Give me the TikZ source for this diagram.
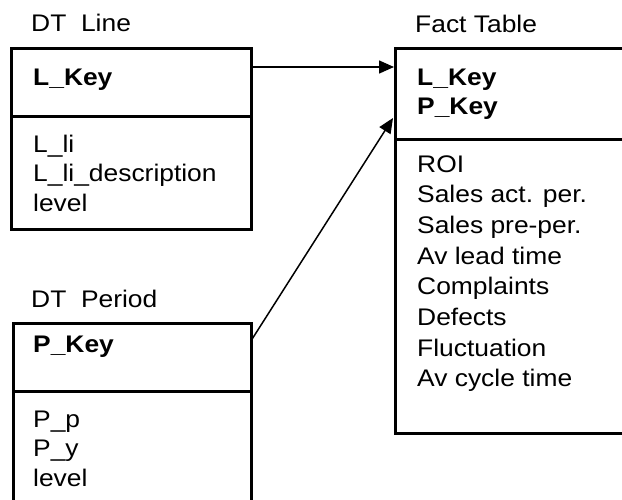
\documentclass[tikz,border=0pt]{standalone}
\usepackage{fontspec}
\setmainfont{Liberation Sans}[FakeStretch=1.1]
\usetikzlibrary{arrows.meta}

\tikzset{
  tablebox/.style={draw, line width=3pt, inner sep=0pt, anchor=north west},
  title/.style={anchor=base west, inner sep=0pt, font=\fontsize{24}{29}\selectfont},
  field/.style={anchor=base west, inner sep=0pt, font=\fontsize{24}{29}\selectfont},
  keyfield/.style={field, font=\fontsize{24}{29}\selectfont\bfseries},
  link/.style={line width=1.5pt, -{Triangle[length=15pt,width=13pt]}}
}

\begin{document}
\begin{tikzpicture}[x=1pt,y=-1pt]
  \useasboundingbox (0,0) rectangle (622,499);
  \fill[white] (0,0) rectangle (622,499);
  \clip (0,0) rectangle (622,499);

  % table titles
  \node[title] (tline) at (31,31) {DT\ \ Line};
  \node[title] (tperiod) at (31,307) {DT\ \ Period};
  \node[title] (tfact) at (415,32) {Fact Table};

  % DT Line: key part and attribute part
  \node[tablebox, minimum width=240pt, minimum height=68pt] (lhead) at (10,47) {};
  \node[tablebox, minimum width=240pt, minimum height=113pt] (lbody) at (10,115) {};

  % DT Period: open at the bottom
  \node[tablebox, minimum width=238pt, minimum height=68pt] (phead) at (12,322) {};
  \node[tablebox, minimum width=238pt, minimum height=130pt] (pbody) at (12,390) {};

  % Fact Table: runs off to the right
  \node[tablebox, minimum width=250pt, minimum height=91pt] (fhead) at (394,47) {};
  \node[tablebox, minimum width=250pt, minimum height=294pt] (fbody) at (394,138) {};

  % key fields
  \node[keyfield] (lkey) at (33,85) {L\_Key};
  \node[keyfield] (pkey) at (33,352) {P\_Key};
  \node[keyfield] (fkey1) at (417,85) {L\_Key};
  \node[keyfield] (fkey2) at (417,114) {P\_Key};

  % attribute fields, one line each
  \foreach \t [count=\i from 0] in {L\_li, L\_li\_description, level}
    \node[field] (lattr\i) at (33,152+29.5*\i) {\t};
  \foreach \t [count=\i from 0] in {P\_p, P\_y, level}
    \node[field] (pattr\i) at (33,427+29.5*\i) {\t};
  \foreach \t [count=\i from 0] in {ROI, Sales act. per., Sales pre-per., Av lead time,
      Complaints, Defects, Fluctuation, Av cycle time}
    \node[field] (fattr\i) at (417,172+30.7*\i) {\t};

  % foreign key links
  \coordinate (lin) at (394,67);
  \coordinate (pout) at (251.5,340);
  \coordinate (pin) at (393,118);
  \draw[link] (lhead.east |- lin) -- (lin);
  \draw[link] (pout) -- (pin);
\end{tikzpicture}
\end{document}
